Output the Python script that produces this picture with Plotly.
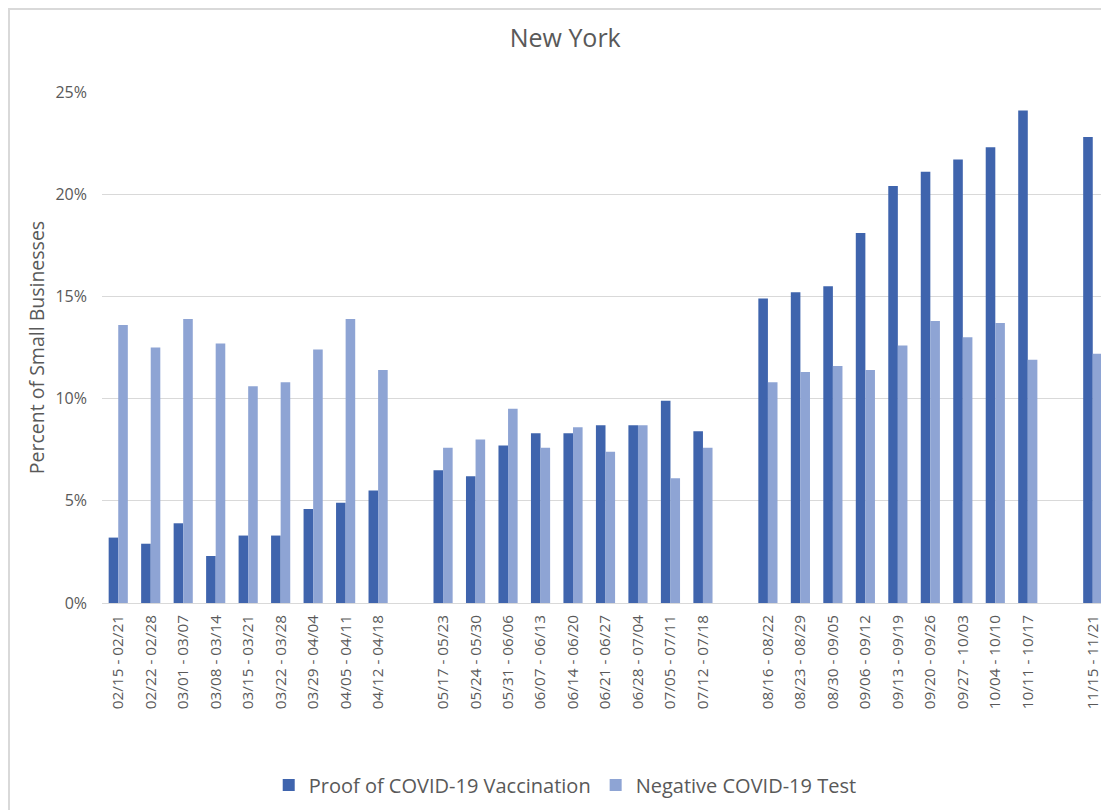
import plotly.graph_objects as go

# weekly periods; "" marks the empty slots between the survey phases
weeks = [
    "02/15 - 02/21", "02/22 - 02/28", "03/01 - 03/07", "03/08 - 03/14", "03/15 - 03/21",
    "03/22 - 03/28", "03/29 - 04/04", "04/05 - 04/11", "04/12 - 04/18", "",
    "05/17 - 05/23", "05/24 - 05/30", "05/31 - 06/06", "06/07 - 06/13", "06/14 - 06/20",
    "06/21 - 06/27", "06/28 - 07/04", "07/05 - 07/11", "07/12 - 07/18", "",
    "08/16 - 08/22", "08/23 - 08/29", "08/30 - 09/05", "09/06 - 09/12", "09/13 - 09/19",
    "09/20 - 09/26", "09/27 - 10/03", "10/04 - 10/10", "10/11 - 10/17", "",
    "11/15 - 11/21",
]

proof_vaccination = [
    3.2, 2.9, 3.9, 2.3, 3.3, 3.3, 4.6, 4.9, 5.5, None,
    6.5, 6.2, 7.7, 8.3, 8.3, 8.7, 8.7, 9.9, 8.4, None,
    14.9, 15.2, 15.5, 18.1, 20.4, 21.1, 21.7, 22.3, 24.1, None,
    22.8,
]

negative_test = [
    13.6, 12.5, 13.9, 12.7, 10.6, 10.8, 12.4, 13.9, 11.4, None,
    7.6, 8.0, 9.5, 7.6, 8.6, 7.4, 8.7, 6.1, 7.6, None,
    10.8, 11.3, 11.6, 11.4, 12.6, 13.8, 13.0, 13.7, 11.9, None,
    12.2,
]

DARK = "#3F64AD"
LIGHT = "#8EA4D4"
TEXT = "#595959"
GRID = "#D9D9D9"
FONT = "Open Sans"

# the page puts the figure 8px in from the window edge, so size it to fit
W, H = 1101, 802
M_L, M_T, M_B = 94, 84, 207
plot_w = W - M_L
plot_h = H - M_T - M_B

x_pos = list(range(len(weeks)))

fig = go.Figure()
fig.add_trace(go.Bar(x=x_pos, y=proof_vaccination, name="Proof of COVID-19 Vaccination",
                     marker=dict(color=DARK, line=dict(width=0))))
fig.add_trace(go.Bar(x=x_pos, y=negative_test, name="Negative COVID-19 Test",
                     marker=dict(color=LIGHT, line=dict(width=0))))

fig.update_layout(
    width=W, height=H,
    margin=dict(l=M_L, r=0, t=M_T, b=M_B),
    paper_bgcolor="white", plot_bgcolor="white",
    barmode="group", bargap=0.41, bargroupgap=0,
    font=dict(family=FONT, color=TEXT),
    title=dict(text="New York", x=0.46, xref="paper", xanchor="center",
               y=1 - 30 / H, yanchor="middle",
               font=dict(size=25, color=TEXT, family=FONT)),
    legend=dict(orientation="h", x=0.46, xanchor="center", y=-0.356, yanchor="middle",
                font=dict(size=20, color=TEXT), itemwidth=30, traceorder="normal"),
    showlegend=True,
)

fig.update_xaxes(
    range=[-0.5, len(weeks) - 0.5],
    tickmode="array", tickvals=x_pos, ticktext=weeks,
    tickangle=-90, tickfont=dict(size=15.3, color=TEXT),
    showgrid=False, showline=True, linecolor=GRID, linewidth=1,
    ticks="", ticklabelstandoff=5, zeroline=False,
)
fig.update_yaxes(
    range=[0, 25], dtick=5, ticksuffix="%",
    tickfont=dict(size=16, color=TEXT),
    showgrid=True, gridcolor=GRID, gridwidth=1,
    zeroline=False, showline=False, ticks="", ticklabelstandoff=14,
    title=dict(text="Percent of Small Businesses", font=dict(size=19.5, color=TEXT), standoff=5),
)

# outer chart border (right and bottom sides fall outside the window)
fig.add_shape(type="rect", xref="paper", yref="paper",
              x0=-(M_L - 1) / plot_w, x1=1.3, y0=-0.6, y1=(plot_h + M_T - 1) / plot_h,
              line=dict(color=GRID, width=2), fillcolor="rgba(0,0,0,0)", layer="below")

fig.write_html("out.html")
